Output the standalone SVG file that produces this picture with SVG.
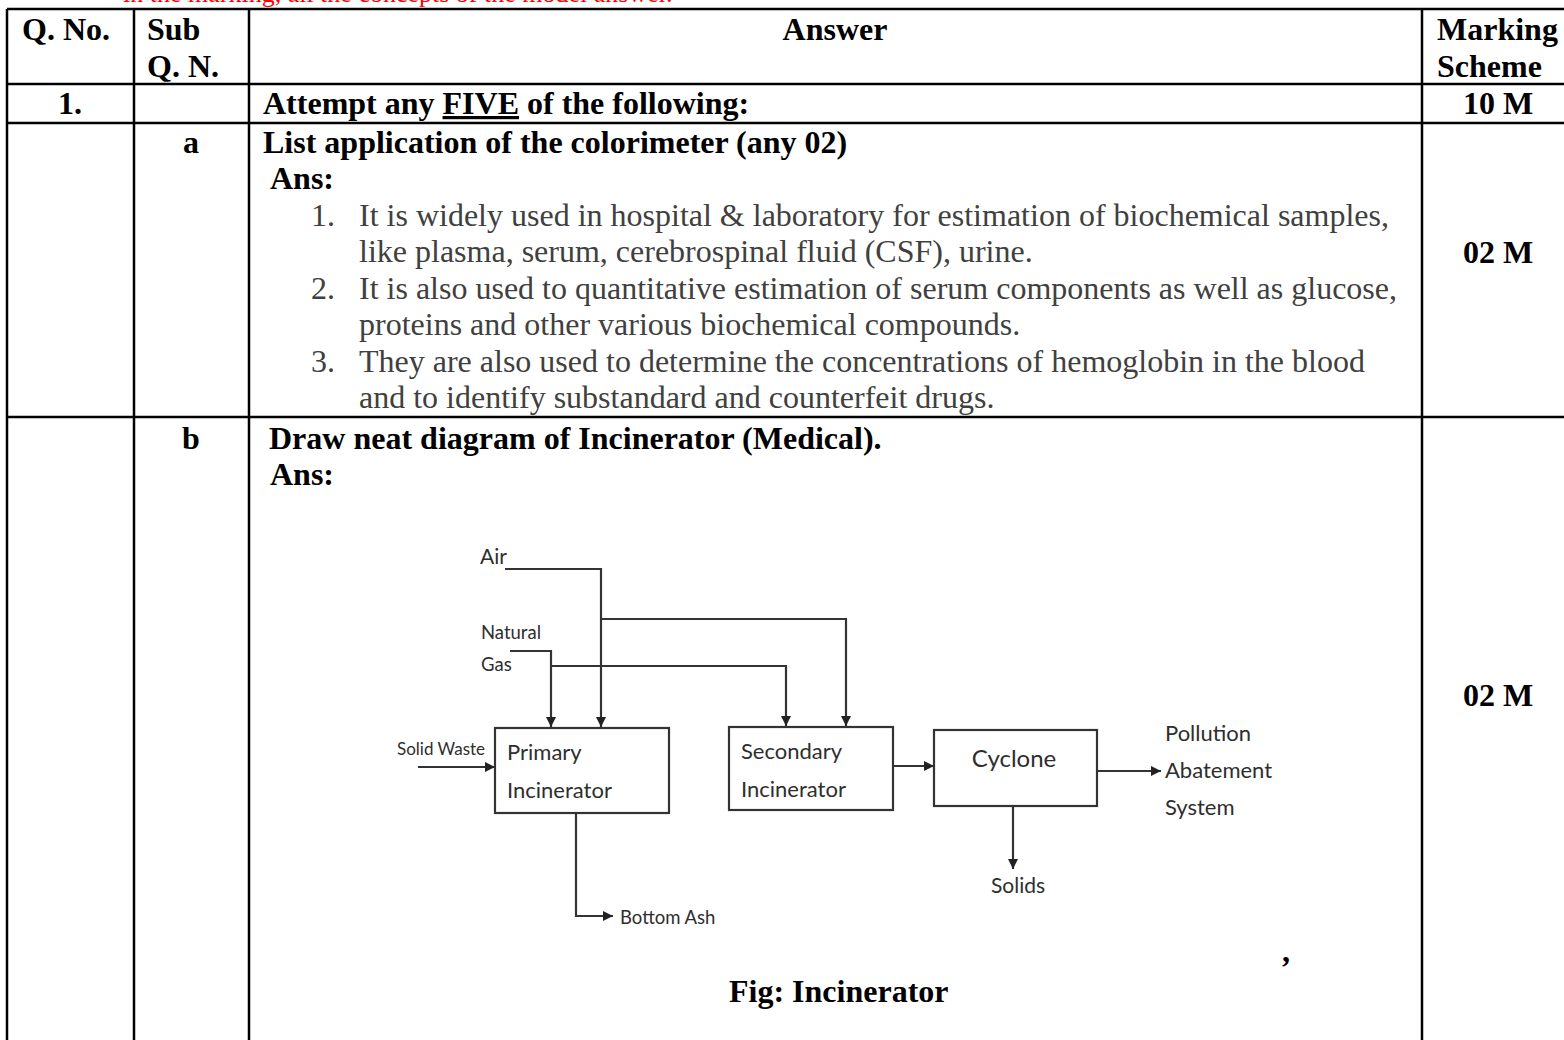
<svg xmlns="http://www.w3.org/2000/svg" width="1564" height="1040" viewBox="0 0 1564 1040">
<style>
.b{font-family:"Liberation Serif","Times New Roman",serif;font-weight:bold;font-size:32px;fill:#000}
.r{font-family:"Liberation Serif","Times New Roman",serif;font-size:32px;fill:#404040}
.red{font-family:"Liberation Serif","Times New Roman",serif;font-size:26px;fill:#ff0000}
.grid{stroke:#000;stroke-width:2.5;fill:none}
.d{font-family:Lato,"Open Sans",sans-serif;fill:#2e2e2e}
.box{fill:#fff;stroke:#333;stroke-width:2.2}
.c{fill:none;stroke:#333;stroke-width:2.2}
</style>
<defs>
<marker id="ah" viewBox="0 0 10 10" refX="10" refY="5" markerWidth="11" markerHeight="10" markerUnits="userSpaceOnUse" orient="auto">
<path d="M0,0 L10,5 L0,10 z" fill="#222"/>
</marker>
</defs>
<rect width="1564" height="1040" fill="#fff"/>
<text class="red" x="123" y="2">in the marking, all the concepts of the model answer.</text>
<g id="table">
<line class="grid" x1="7" y1="9" x2="1564" y2="9"/>
<line class="grid" x1="7" y1="84" x2="1564" y2="84"/>
<line class="grid" x1="7" y1="123" x2="1564" y2="123"/>
<line class="grid" x1="7" y1="417" x2="1564" y2="417"/>
<line class="grid" x1="7" y1="9" x2="7" y2="1040"/>
<line class="grid" x1="134" y1="9" x2="134" y2="1040"/>
<line class="grid" x1="249" y1="9" x2="249" y2="1040"/>
<line class="grid" x1="1422" y1="9" x2="1422" y2="1040"/>
</g>
<g id="header">
<text class="b" x="22" y="40">Q. No.</text>
<text class="b" x="147" y="40">Sub</text>
<text class="b" x="147" y="77">Q. N.</text>
<text class="b" x="835" y="40" text-anchor="middle">Answer</text>
<text class="b" x="1437" y="40">Marking</text>
<text class="b" x="1437" y="77">Scheme</text>
</g>
<g id="row1">
<text class="b" x="70" y="114" text-anchor="middle">1.</text>
<text class="b" x="263" y="114">Attempt any <tspan text-decoration="underline">FIVE</tspan> of the following:</text>
<text class="b" x="1498" y="114" text-anchor="middle">10 M</text>
</g>
<g id="rowa">
<text class="b" x="191" y="153" text-anchor="middle">a</text>
<text class="b" x="263" y="153">List application of the colorimeter (any 02)</text>
<text class="b" x="270" y="189">Ans:</text>
<text class="r" x="311" y="226">1.</text>
<text class="r" x="359" y="226">It is widely used in hospital &amp; laboratory for estimation of biochemical samples,</text>
<text class="r" x="359" y="262">like plasma, serum, cerebrospinal fluid (CSF), urine.</text>
<text class="r" x="311" y="299">2.</text>
<text class="r" x="359" y="299">It is also used to quantitative estimation of serum components as well as glucose,</text>
<text class="r" x="359" y="335">proteins and other various biochemical compounds.</text>
<text class="r" x="311" y="372">3.</text>
<text class="r" x="359" y="372">They are also used to determine the concentrations of hemoglobin in the blood</text>
<text class="r" x="359" y="408">and to identify substandard and counterfeit drugs.</text>
<text class="b" x="1498" y="263" text-anchor="middle">02 M</text>
</g>
<g id="rowb">
<text class="b" x="191" y="449" text-anchor="middle">b</text>
<text class="b" x="269" y="449">Draw neat diagram of Incinerator (Medical).</text>
<text class="b" x="270" y="485">Ans:</text>
<text class="b" x="1498" y="706" text-anchor="middle">02 M</text>
<text class="b" x="729" y="1002">Fig: Incinerator</text>
<text class="b" x="1282" y="962">,</text>
</g>
<g id="labels">
<text class="d" x="480" y="564" font-size="21">Air</text>
<text class="d" x="481" y="639" font-size="18.5">Natural</text>
<text class="d" x="481" y="671" font-size="18.5">Gas</text>
<text class="d" x="397" y="755" font-size="17">Solid Waste</text>
<text class="d" x="620" y="924" font-size="18.5">Bottom Ash</text>
<text class="d" x="1165" y="741" font-size="22">Pollution</text>
<text class="d" x="1165" y="778" font-size="22">Abatement</text>
<text class="d" x="1165" y="815" font-size="22">System</text>
<text class="d" x="1018" y="893" font-size="21" text-anchor="middle">Solids</text>
</g>
<g id="primary">
<rect class="box" x="495" y="728" width="174" height="85"/>
<text class="d" x="507" y="760" font-size="22">Primary</text>
<text class="d" x="507" y="798" font-size="22">Incinerator</text>
</g>
<g id="secondary">
<rect class="box" x="729" y="727" width="164" height="83"/>
<text class="d" x="741" y="759" font-size="22">Secondary</text>
<text class="d" x="741" y="797" font-size="22">Incinerator</text>
</g>
<g id="cyclone">
<rect class="box" x="934" y="730" width="163" height="76"/>
<text class="d" x="1014" y="767" font-size="24" text-anchor="middle">Cyclone</text>
</g>
<g id="connectors">
<path class="c" d="M505,569 H601 V727" marker-end="url(#ah)"/>
<path class="c" d="M601,619 H846 V726" marker-end="url(#ah)"/>
<path class="c" d="M510,651 H551 V727" marker-end="url(#ah)"/>
<path class="c" d="M551,666 H786 V726" marker-end="url(#ah)"/>
<path class="c" d="M418,767 H495" marker-end="url(#ah)"/>
<path class="c" d="M576,813 V916 H613" marker-end="url(#ah)"/>
<path class="c" d="M893,766 H934" marker-end="url(#ah)"/>
<path class="c" d="M1097,771 H1161" marker-end="url(#ah)"/>
<path class="c" d="M1013,806 V869" marker-end="url(#ah)"/>
</g>
</svg>
